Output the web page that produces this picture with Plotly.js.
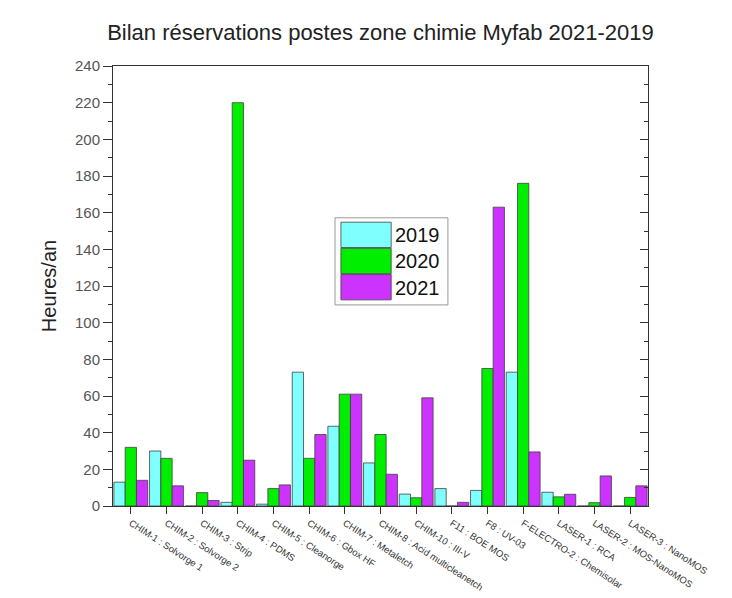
<!DOCTYPE html>
<html>
<head>
<meta charset="utf-8">
<script src="https://cdn.plot.ly/plotly-3.0.1.min.js"></script>
<style>html,body{margin:0;padding:0;background:#fff;}#chart{width:732px;height:598px;}</style>
</head>
<body>
<div id="chart"></div>
<script>
const categories = [
  "CHIM-1 : Solvorge 1", "CHIM-2 : Solvorge 2", "CHIM-3 : Strip", "CHIM-4 : PDMS",
  "CHIM-5 : Cleanorge", "CHIM-6 : Gbox HF", "CHIM-7 : Metaletch", "CHIM-8 : Acid multicleanetch",
  "CHIM-10 : III-V", "F11 : BOE MOS", "F8 : UV-03", "F-ELECTRO-2 : Chemisolar",
  "LASER-1 : RCA", "LASER-2 : MOS-NanoMOS", "LASER-3 : NanoMOS"
];
const seriesNames = ["2019", "2020", "2021"];
const values2019 = [13, 30, 0, 2, 1, 73, 43.5, 23.5, 6.5, 9.5, 8.5, 73, 7.5, 0, 0];
const values2020 = [32, 26, 7.3, 220, 9.5, 26, 61, 39, 4.5, 0, 75, 176, 5, 1.8, 4.7];
const values2021 = [14, 11, 3, 25, 11.5, 39, 61, 17.3, 59, 2, 163, 29.5, 6.4, 16.4, 11];
const seriesColors = ["#80ffff", "#00ee00", "#cc33ff"];
const allValues = [values2019, values2020, values2021];

const traces = seriesNames.map((n, i) => ({
  type: "bar",
  name: n,
  x: categories,
  y: allValues[i],
  marker: {color: seriesColors[i], line: {color: "#404040", width: 0.8}},
  showlegend: false
}));
// empty trace so that the right-hand axis (inward ticks) is drawn
traces.push({type: "scatter", mode: "markers", x: [], y: [], yaxis: "y2", showlegend: false, hoverinfo: "skip"});

// custom legend (large swatches like the reference)
const shapes = [{
  type: "rect", xref: "paper", yref: "paper",
  x0: 0.415, x1: 0.626, y0: 0.457, y1: 0.655,
  line: {color: "#999", width: 1}, fillcolor: "rgba(255,255,255,0)"
}];
const annotations = [];
const rowH = 0.0595;
seriesNames.forEach((n, i) => {
  const top = 0.645 - i * rowH;
  shapes.push({
    type: "rect", xref: "paper", yref: "paper",
    x0: 0.426, x1: 0.52, y0: top - rowH + 0.002, y1: top,
    line: {color: "#404040", width: 0.8}, fillcolor: seriesColors[i]
  });
  annotations.push({
    xref: "paper", yref: "paper", x: 0.524, y: top - rowH / 2,
    xanchor: "left", yanchor: "middle", showarrow: false,
    text: n, font: {family: "Liberation Sans, Arial, sans-serif", size: 20, color: "#111"}
  });
});

const layout = {
  width: 732, height: 598,
  margin: {l: 113, r: 84, t: 66, b: 92},
  paper_bgcolor: "#fff", plot_bgcolor: "#fff",
  font: {family: "Liberation Sans, Arial, sans-serif", color: "#333"},
  title: {
    text: "Bilan réservations postes zone chimie Myfab 2021-2019",
    x: 0.5, xref: "paper", y: 0.946, yanchor: "middle",
    font: {size: 22, color: "#222"}
  },
  barmode: "group",
  bargap: 0.05,
  bargroupgap: 0,
  xaxis: {
    type: "category",
    range: [-0.5, 14.5],
    showline: true, linecolor: "#333", linewidth: 1, mirror: true,
    ticks: "outside", ticklen: 7, tickcolor: "#333",
    tickangle: 33,
    tickfont: {size: 9.5, color: "#333"},
    showgrid: false, zeroline: false
  },
  yaxis: {
    range: [0, 240],
    dtick: 20,
    showline: true, linecolor: "#333", linewidth: 1,
    ticks: "outside", ticklen: 9, tickcolor: "#333",
    minor: {dtick: 10, ticks: "outside", ticklen: 4, tickcolor: "#333", showgrid: false},
    tickfont: {size: 15, color: "#555"},
    showgrid: false, zeroline: false,
    title: {text: "Heures/an", font: {size: 20, color: "#222"}, standoff: 12}
  },
  yaxis2: {
    overlaying: "y", side: "right", range: [0, 240], dtick: 20,
    showline: true, linecolor: "#333", linewidth: 1,
    ticks: "inside", ticklen: 8, tickcolor: "#333",
    minor: {dtick: 10, ticks: "inside", ticklen: 4, tickcolor: "#333", showgrid: false},
    showticklabels: false, showgrid: false, zeroline: false
  },
  shapes: shapes,
  annotations: annotations,
  showlegend: false
};

Plotly.newPlot("chart", traces, layout, {staticPlot: true, displayModeBar: false});
</script>
</body>
</html>
